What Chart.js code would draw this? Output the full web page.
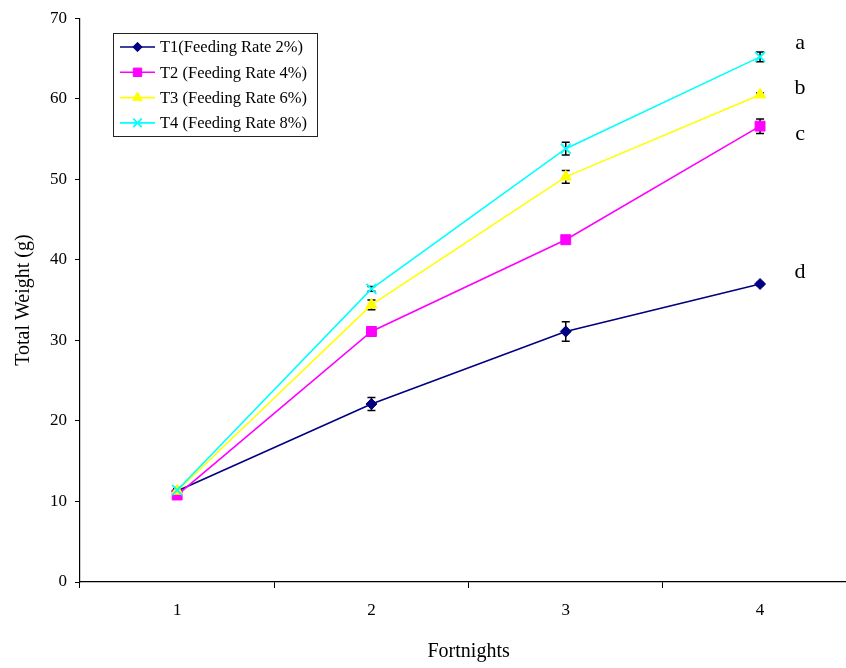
<!DOCTYPE html>
<html>
<head>
<meta charset="utf-8">
<script src="https://cdn.jsdelivr.net/npm/chart.js@4/dist/chart.umd.min.js"></script>
<style>
  html, body { margin: 0; padding: 0; background: #fff; overflow: hidden; }
  #wrap { width: 866px; height: 668px; }
</style>
</head>
<body>
<div id="wrap"><canvas id="c" width="866" height="668"></canvas></div>
<script>
// Total weight per fortnight for each feeding-rate treatment
const fortnights = ['1', '2', '3', '4'];
const seriesNames = [
  'T1(Feeding Rate 2%)',
  'T2 (Feeding Rate 4%)',
  'T3 (Feeding Rate 6%)',
  'T4 (Feeding Rate 8%)'
];
const t1Weight = [11.3, 22.1, 31.1, 37.0];
const t2Weight = [10.8, 31.1, 42.5, 56.6];
const t3Weight = [11.3, 34.4, 50.3, 60.5];
const t4Weight = [11.4, 36.4, 53.8, 65.2];
// Standard error for each point
const t1Err = [0.2, 0.8, 1.2, 0.2];
const t2Err = [0.2, 0.6, 0.1, 0.9];
const t3Err = [0.2, 0.6, 0.8, 0.2];
const t4Err = [0.2, 0.3, 0.8, 0.6];
// Significance letters next to the final fortnight
const groupLetters = ['a', 'b', 'c', 'd'];
const letterLevels = [66.9, 61.3, 55.6, 38.5];
const yTicks = [0, 10, 20, 30, 40, 50, 60, 70];

const serif = '"Liberation Serif", "Times New Roman", serif';
const colors = ['#000080', '#FF00FF', '#FFFF00', '#00FFFF'];
const styles = ['rectRot', 'rect', 'triangle', 'crossRot'];
const radii = [5.5, 7, 6.5, 7];
const values = [t1Weight, t2Weight, t3Weight, t4Weight];
const errors = [t1Err, t2Err, t3Err, t4Err];

const datasets = values.map((v, i) => ({
  label: seriesNames[i],
  data: v,
  errors: errors[i],
  borderColor: colors[i],
  backgroundColor: colors[i],
  borderWidth: 1.6,
  pointStyle: styles[i],
  pointRadius: radii[i],
  pointHoverRadius: radii[i],
  pointBorderWidth: styles[i] === 'crossRot' ? 1.8 : 1,
  tension: 0,
  order: 4 - i
}));

// Vertical error bars with caps, drawn beneath the series
const errorBars = {
  id: 'errorBars',
  beforeDatasetsDraw(chart) {
    const ctx = chart.ctx;
    const y = chart.scales.y;
    ctx.save();
    ctx.strokeStyle = '#000';
    ctx.lineWidth = 1.5;
    chart.data.datasets.forEach((ds, di) => {
      const meta = chart.getDatasetMeta(di);
      meta.data.forEach((pt, k) => {
        const e = ds.errors[k];
        const top = y.getPixelForValue(ds.data[k] + e);
        const bot = y.getPixelForValue(ds.data[k] - e);
        ctx.beginPath();
        ctx.moveTo(pt.x, top); ctx.lineTo(pt.x, bot);
        ctx.moveTo(pt.x - 4, top); ctx.lineTo(pt.x + 4, top);
        ctx.moveTo(pt.x - 4, bot); ctx.lineTo(pt.x + 4, bot);
        ctx.stroke();
      });
    });
    ctx.restore();
  }
};

// Boxed legend inside the plot, plus group letters
const boxLegend = {
  id: 'boxLegend',
  afterDraw(chart) {
    const ctx = chart.ctx;
    const x0 = 113.5, y0 = 33.5, w = 204, h = 103;
    ctx.save();
    ctx.fillStyle = '#fff';
    ctx.fillRect(x0, y0, w, h);
    ctx.strokeStyle = '#222';
    ctx.lineWidth = 1;
    ctx.strokeRect(x0, y0, w, h);
    ctx.font = '16.5px ' + serif;
    ctx.textBaseline = 'middle';
    chart.data.datasets.forEach((ds, i) => {
      const cy = 47 + i * 25.3;
      ctx.strokeStyle = ds.borderColor;
      ctx.lineWidth = 1.6;
      ctx.beginPath();
      ctx.moveTo(120, cy); ctx.lineTo(155, cy);
      ctx.stroke();
      ctx.fillStyle = ds.backgroundColor;
      ctx.strokeStyle = ds.borderColor;
      ctx.lineWidth = ds.pointBorderWidth;
      Chart.helpers.drawPoint(ctx, {pointStyle: ds.pointStyle, radius: ds.pointRadius * 0.85, rotation: 0, borderWidth: ds.pointBorderWidth}, 137.5, cy);
      ctx.fillStyle = '#000';
      ctx.textAlign = 'left';
      ctx.fillText(ds.label, 160, cy + 1);
    });
    // letters
    const xs = chart.scales.x, ys = chart.scales.y;
    ctx.font = '22px ' + serif;
    ctx.textAlign = 'center';
    ctx.fillStyle = '#000';
    groupLetters.forEach((t, i) => {
      ctx.fillText(t, xs.getPixelForValue(3) + 40, ys.getPixelForValue(letterLevels[i]));
    });
    ctx.restore();
  }
};

new Chart(document.getElementById('c'), {
  type: 'line',
  data: { labels: fortnights, datasets },
  options: {
    responsive: false,
    animation: false,
    devicePixelRatio: 1,
    layout: { padding: { top: 17, right: 2, left: 8, bottom: 0 } },
    plugins: { legend: { display: false }, tooltip: { enabled: false } },
    scales: {
      x: {
        offset: true,
        grid: { offset: true, drawOnChartArea: false, drawTicks: true, tickLength: 6, color: '#000', lineWidth: 1 },
        border: { color: '#000', width: 1.2 },
        ticks: { color: '#000', font: { family: serif, size: 17 }, padding: 12 },
        title: { display: true, text: 'Fortnights', color: '#000', font: { family: serif, size: 20 }, padding: { top: 14 } },
        afterFit(s) { s.height = 86; }
      },
      y: {
        min: 0, max: 70,
        afterBuildTicks(s) { s.ticks = yTicks.map(v => ({ value: v })); },
        grid: { drawOnChartArea: false, drawTicks: true, tickLength: 5, color: '#000', lineWidth: 1 },
        border: { color: '#000', width: 1.2 },
        ticks: { color: '#000', font: { family: serif, size: 17 }, padding: 8 },
        title: { display: true, text: 'Total Weight (g)', color: '#000', font: { family: serif, size: 20 }, padding: { bottom: 8 } },
        afterFit(s) { s.width = 72; }
      }
    }
  },
  plugins: [errorBars, boxLegend]
});
</script>
</body>
</html>
